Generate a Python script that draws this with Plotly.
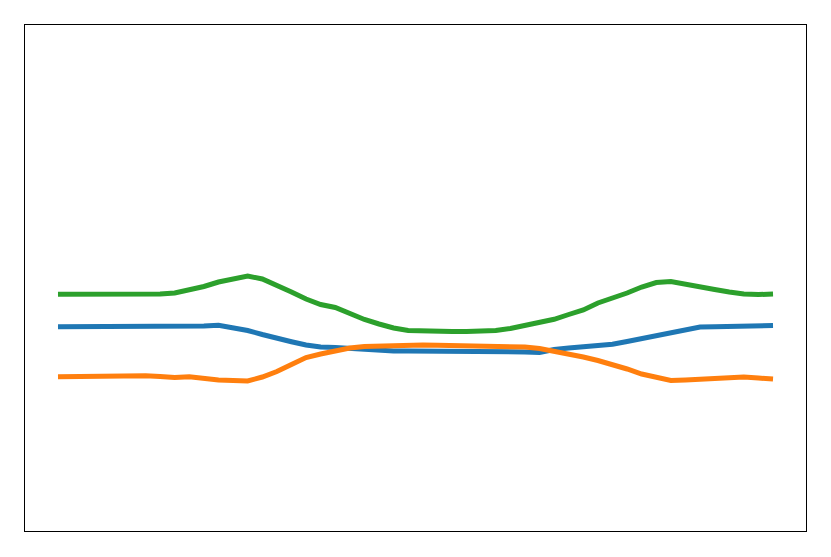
import plotly.graph_objects as go

x = list(range(50))

blue = [20.43, 20.43, 20.43, 20.43, 20.43, 20.43, 20.43, 20.43, 20.43, 20.45,
        20.50, 20.58, 20.35, 20.05, 19.65, 19.25, 18.93, 18.60, 18.40, 18.35,
        18.25, 18.10, 18.00, 18.00, 18.00, 18.00, 17.98, 18.00, 17.98, 17.98,
        17.97, 17.95, 17.90, 17.85, 18.15, 18.30, 18.40, 18.60, 18.67, 18.95,
        19.25, 19.55, 19.85, 20.10, 20.40, 20.43, 20.45, 20.43, 20.43, 20.55]

orange = [15.43, 15.46, 15.49, 15.52, 15.55, 15.55, 15.52, 15.45, 15.35, 15.42,
          15.25, 15.10, 15.05, 15.00, 15.40, 15.95, 16.65, 17.35, 17.70, 18.05,
          18.30, 18.45, 18.50, 18.60, 18.65, 18.60, 18.57, 18.55, 18.57, 18.57,
          18.55, 18.50, 18.40, 18.25, 18.00, 17.70, 17.40, 17.05, 16.65, 16.20,
          15.70, 15.35, 15.05, 15.10, 15.15, 15.25, 15.30, 15.40, 15.30, 15.20]

green = [23.67, 23.66, 23.65, 23.64, 23.64, 23.65, 23.67, 23.70, 23.80, 24.10,
         24.45, 24.90, 25.25, 25.50, 25.20, 24.60, 23.90, 23.20, 22.65, 22.35,
         21.70, 21.15, 20.70, 20.30, 20.05, 19.98, 19.95, 19.95, 19.95, 19.97,
         20.05, 20.25, 20.55, 20.77, 21.17, 21.65, 22.10, 22.80, 23.25, 23.80,
         24.40, 24.85, 24.95, 24.65, 24.40, 24.15, 23.90, 23.70, 23.65, 23.70]

series = [("blue", blue, "#1f77b4"), ("orange", orange, "#ff7f0e"), ("green", green, "#2ca02c")]

fig = go.Figure()
for name, ys, color in series:
    fig.add_trace(go.Scatter(x=x, y=ys, mode="lines", name=name,
                             line=dict(color=color, width=5)))

axis_style = dict(showline=True, linecolor="black", linewidth=1.2, mirror=True,
                  showticklabels=False, ticks="", showgrid=False, zeroline=False)

fig.update_layout(
    width=831, height=557,
    margin=dict(l=25, r=25, t=25, b=26),
    paper_bgcolor="white", plot_bgcolor="white",
    showlegend=False,
    xaxis=dict(range=[-2.26, 51.26], **axis_style),
    yaxis=dict(range=[0, 50.6], **axis_style),
)

fig.write_html("out.html",
               config={"displayModeBar": False},
               post_script="document.body.style.margin='0';document.body.style.overflow='hidden';")
